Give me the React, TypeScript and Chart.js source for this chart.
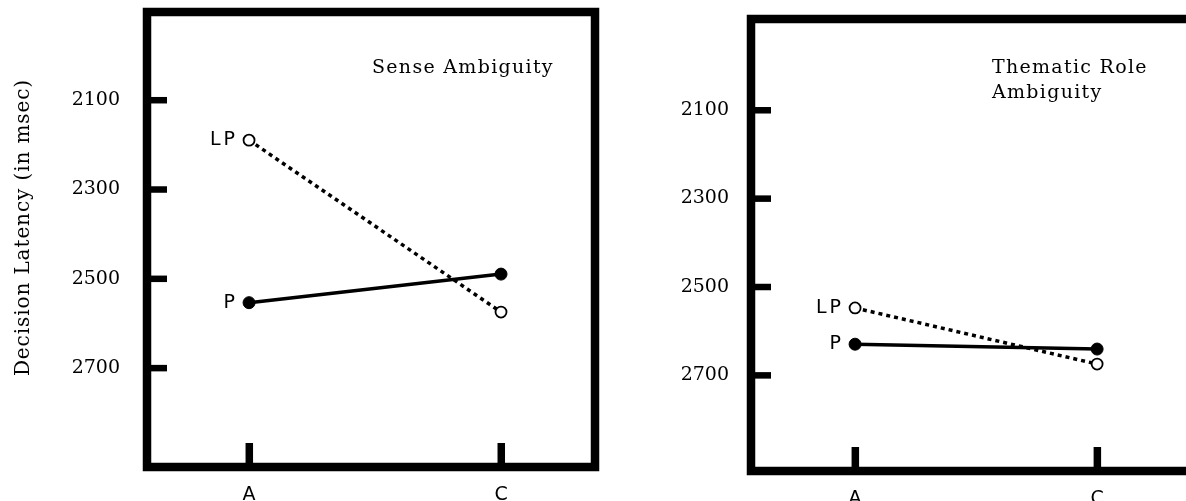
import React, { useEffect, useRef } from "react";
import { Chart, registerables } from "chart.js";

Chart.register(...registerables);

// ---- data ----
const conditions = ["A", "C"];
const yTickValues = [2100, 2300, 2500, 2700];
const seriesNames = ["LP", "P"];
const senseLP = [2190, 2575];
const senseP = [2554, 2490];
const thematicLP = [2548, 2675];
const thematicP = [2630, 2641];
const senseTitle = ["Sense Ambiguity"];
const thematicTitle = ["Thematic Role", "Ambiguity"];
const yAxisTitle = "Decision Latency (in msec)";

type Spec = {
  lp: number[];
  p: number[];
  title: string[];
  axisTitle?: string;
  canvasLeft: number;
  canvasWidth: number;
  yAxisW: number;
  xAxisH: number;
  padTop: number;
  padRight: number;
  xMin: number;
  xMax: number;
  yMin: number;
  yMax: number;
  tickPad: number;
  titleDx: number;
  titleDy: number;
};

const leftSpec: Spec = {
  lp: senseLP,
  p: senseP,
  title: senseTitle,
  axisTitle: yAxisTitle,
  canvasLeft: 0,
  canvasWidth: 640,
  yAxisW: 147,
  xAxisH: 34,
  padTop: 12,
  padRight: 45,
  xMin: -0.405,
  xMax: 1.373,
  yMin: 1903,
  yMax: 2922,
  tickPad: 27,
  titleDx: 225,
  titleDy: 61,
};

const rightSpec: Spec = {
  lp: thematicLP,
  p: thematicP,
  title: thematicTitle,
  canvasLeft: 640,
  canvasWidth: 600,
  yAxisW: 111,
  xAxisH: 30,
  padTop: 19,
  padRight: 41,
  xMin: -0.43,
  xMax: 1.421,
  yMin: 1894,
  yMax: 2917,
  tickPad: 22,
  titleDx: 241,
  titleDy: 54,
};

const SERIF = "'DejaVu Serif', serif";
const SANS = "'DejaVu Sans', sans-serif";

function makeDecor(spec: Spec) {
  return {
    id: "decor",
    afterDraw(chart: any) {
      const { ctx, chartArea: a, scales } = chart;
      ctx.save();
      ctx.fillStyle = "#000";
      ctx.strokeStyle = "#000";
      // inward tick marks
      for (const t of scales.y.ticks) {
        const py = scales.y.getPixelForValue(t.value);
        ctx.fillRect(a.left, py - 3, 20, 6.5);
      }
      for (const t of scales.x.ticks) {
        const px = scales.x.getPixelForValue(t.value);
        ctx.fillRect(px - 3.5, a.bottom - 24, 7.5, 24);
      }
      // heavy frame
      ctx.lineWidth = 8.5;
      ctx.lineJoin = "miter";
      ctx.strokeRect(a.left, a.top, a.right - a.left, a.bottom - a.top);

      // panel title
      ctx.font = `19px ${SERIF}`;
      (ctx as any).letterSpacing = "1.3px";
      ctx.textAlign = "left";
      ctx.textBaseline = "alphabetic";
      spec.title.forEach((line, i) => {
        ctx.fillText(line, a.left + spec.titleDx, a.top + spec.titleDy + i * 25);
      });

      // series labels next to first points
      ctx.font = `19px ${SANS}`;
      (ctx as any).letterSpacing = "3px";
      ctx.textAlign = "right";
      ctx.textBaseline = "middle";
      chart.data.datasets.forEach((ds: any, i: number) => {
        const pt = chart.getDatasetMeta(i).data[0];
        ctx.fillText(ds.label, pt.x - 11, pt.y);
      });

      // y axis title
      if (spec.axisTitle) {
        ctx.font = `20px ${SERIF}`;
        (ctx as any).letterSpacing = "0.9px";
        ctx.textAlign = "center";
        ctx.textBaseline = "middle";
        ctx.translate(24, (a.top + a.bottom) / 2 - 12);
        ctx.rotate(-Math.PI / 2);
        ctx.fillText(spec.axisTitle, 0, 0);
      }
      ctx.restore();
    },
  };
}

function Panel({ spec }: { spec: Spec }) {
  const ref = useRef<HTMLCanvasElement>(null);
  useEffect(() => {
    const chart = new Chart(ref.current as HTMLCanvasElement, {
      type: "line",
      data: {
        datasets: [
          {
            label: seriesNames[0],
            data: spec.lp.map((y, i) => ({ x: i, y })),
            borderColor: "#000",
            borderWidth: 3.5,
            borderDash: [4, 4],
            pointRadius: 5.5,
            pointBackgroundColor: "#fff",
            pointBorderColor: "#000",
            pointBorderWidth: 1.8,
            tension: 0,
            fill: false,
          },
          {
            label: seriesNames[1],
            data: spec.p.map((y, i) => ({ x: i, y })),
            borderColor: "#000",
            borderWidth: 3.5,
            pointRadius: 6,
            pointBackgroundColor: "#000",
            pointBorderColor: "#000",
            pointBorderWidth: 1,
            tension: 0,
            fill: false,
          },
        ],
      },
      options: {
        animation: false,
        responsive: false,
        events: [],
        layout: { padding: { top: spec.padTop, right: spec.padRight, left: 0, bottom: 0 } },
        plugins: { legend: { display: false }, tooltip: { enabled: false }, title: { display: false } },
        scales: {
          x: {
            type: "linear",
            min: spec.xMin,
            max: spec.xMax,
            grid: { display: false, drawTicks: false },
            border: { display: false },
            afterBuildTicks: (s: any) => {
              s.ticks = conditions.map((_, i) => ({ value: i }));
            },
            afterFit: (s: any) => {
              s.height = spec.xAxisH;
              s.paddingLeft = 0;
              s.paddingRight = 0;
            },
            ticks: {
              padding: 17,
              color: "#000",
              font: { family: SANS, size: 19 },
              callback: (v: any) => conditions[v] ?? "",
            },
          },
          y: {
            type: "linear",
            reverse: true,
            min: spec.yMin,
            max: spec.yMax,
            grid: { display: false, drawTicks: false },
            border: { display: false },
            afterBuildTicks: (s: any) => {
              s.ticks = yTickValues.map((v) => ({ value: v }));
            },
            afterFit: (s: any) => {
              s.width = spec.yAxisW;
              s.paddingTop = 0;
              s.paddingBottom = 0;
            },
            ticks: {
              padding: spec.tickPad,
              color: "#000",
              font: { family: SERIF, size: 19 },
              callback: (v: any) => String(v),
            },
          },
        },
      } as any,
      plugins: [makeDecor(spec)],
    });
    return () => chart.destroy();
  }, [spec]);
  return (
    <canvas
      ref={ref}
      width={spec.canvasWidth}
      height={501}
      style={{ position: "absolute", left: spec.canvasLeft, top: 0, width: spec.canvasWidth, height: 501 }}
    />
  );
}

export default function App() {
  return (
    <div
      style={{
        position: "fixed",
        left: 0,
        top: 0,
        width: 1186,
        height: 501,
        overflow: "hidden",
        background: "#fff",
      }}
    >
      <Panel spec={leftSpec} />
      <Panel spec={rightSpec} />
    </div>
  );
}
